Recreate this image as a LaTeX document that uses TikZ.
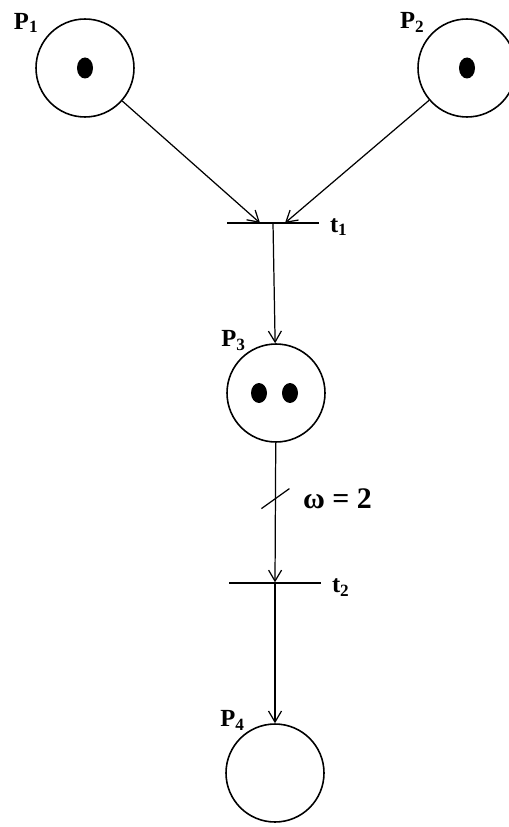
\documentclass[tikz,border=0pt]{standalone}
\usepackage{fontspec}
\setmainfont{Liberation Serif}
\usetikzlibrary{arrows.meta,positioning}
\tikzset{
  place/.style={circle,draw,line width=0.9pt,inner sep=0pt,minimum size=1.96cm},
  trans/.style={draw,line width=0.8pt,inner sep=0pt,minimum width=1.84cm,minimum height=0pt},
  token/.style={fill=black},
  arc/.style={-{Straight Barb[length=2.2mm,width=2.6mm]},line width=0.7pt},
  plabel/.style={font=\fontsize{14}{16}\selectfont\bfseries,inner sep=0pt,anchor=south east},
  tlabel/.style={font=\fontsize{14}{16}\selectfont\bfseries,inner sep=0pt},
  wlabel/.style={font=\fontsize{17}{19}\selectfont\bfseries,inner sep=0pt}
}
\begin{document}
\begin{tikzpicture}[x=0.02cm,y=-0.02cm]
  \useasboundingbox (0,0) rectangle (509,827);
  % places and transitions
  \node[place,label={[plabel,label distance=0.16cm]143:P\textsubscript{1}}] (P1) at (85,68) {};
  \node[place,label={[plabel,label distance=0.1cm]140:P\textsubscript{2}}] (P2) at (467,68) {};
  \node[trans] (t1) at (273,223) {};
  \node[place,label={[plabel,label distance=0.04cm]125:P\textsubscript{3}}] (P3) at (276,393) {};
  \node[trans] (t2) at (275,583) {};
  \node[place,label={[plabel,label distance=0.04cm]125:P\textsubscript{4}}] (P4) at (275,773) {};
  \node[tlabel,anchor=north west] (t1lab) at ([xshift=0.2cm,yshift=0.1cm]t1.east) {t\textsubscript{1}};
  \node[tlabel,anchor=north west] (t2lab) at ([xshift=0.2cm,yshift=0.1cm]t2.east) {t\textsubscript{2}};
  % tokens
  \fill[token] (P1.center) ellipse [x radius=0.16cm,y radius=0.21cm];
  \fill[token] (P2.center) ellipse [x radius=0.16cm,y radius=0.21cm];
  \fill[token] ([xshift=-0.34cm]P3.center) ellipse [x radius=0.16cm,y radius=0.2cm];
  \fill[token] ([xshift=0.28cm]P3.center) ellipse [x radius=0.16cm,y radius=0.2cm];
  % arcs
  \draw[arc] (P1) -- ([xshift=-0.26cm]t1.center);
  \draw[arc] (P2) -- ([xshift=0.24cm]t1.center);
  \draw[arc] (t1) -- (P3);
  \draw[arc] (P3) -- coordinate[pos=0.4] (wmark) node[pos=0.4,wlabel,right=0.54cm] {ω = 2} (t2);
  \draw[line width=0.7pt] ([shift={(-14,10)}]wmark) -- ([shift={(14,-10)}]wmark);
  \draw[arc] (t2) -- (P4);
\end{tikzpicture}
\end{document}
